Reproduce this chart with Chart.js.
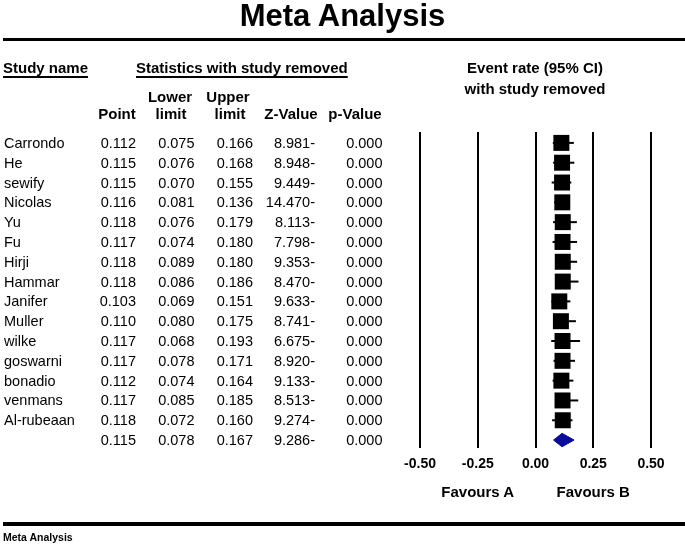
<!DOCTYPE html>
<html>
<head>
<meta charset="utf-8">
<script src="https://cdn.jsdelivr.net/npm/chart.js@4/dist/chart.umd.min.js"></script>
<style>
  html,body{margin:0;padding:0;background:#fff;}
  #wrap{position:relative;width:685px;height:548px;overflow:hidden;font-family:"Liberation Sans",Arial,sans-serif;color:#000;}
  #c{position:absolute;left:0;top:0;}
  .t{position:absolute;white-space:nowrap;line-height:18px;height:18px;}
  .b{font-weight:bold;}
  .hd{font-size:15px;font-weight:bold;}
  .cell{font-size:14.5px;}
  .ul{text-decoration:underline;text-underline-offset:3px;text-decoration-thickness:2px;}
  .rule{position:absolute;left:3px;right:0;background:#000;}
</style>
</head>
<body>
<div id="wrap">
  <canvas id="c" width="685" height="548"></canvas>
  <div class="t b" style="left:0;width:685px;text-align:center;top:0;font-size:31px;line-height:32px;height:32px;">Meta Analysis</div>
  <div class="rule" style="top:38px;height:3px;"></div>
  <div class="rule" style="top:522px;height:4px;"></div>
  <div class="t b" style="left:3px;top:531px;font-size:10.5px;line-height:12px;height:12px;font-family:'Liberation Sans Narrow','Liberation Sans',Arial,sans-serif;">Meta Analysis</div>
</div>
<script>
// leave-one-out results, one row per removed study
const studies = ['Carrondo','He','sewify','Nicolas','Yu','Fu','Hirji','Hammar','Janifer','Muller','wilke','goswarni','bonadio','venmans','Al-rubeaan'];
const point   = [0.112,0.115,0.115,0.116,0.118,0.117,0.118,0.118,0.103,0.110,0.117,0.117,0.112,0.117,0.118];
const lower   = [0.075,0.076,0.070,0.081,0.076,0.074,0.089,0.086,0.069,0.080,0.068,0.078,0.074,0.085,0.072];
const upper   = [0.166,0.168,0.155,0.136,0.179,0.180,0.180,0.186,0.151,0.175,0.193,0.171,0.164,0.185,0.160];
const zValues = ['8.981-','8.948-','9.449-','14.470-','8.113-','7.798-','9.353-','8.470-','9.633-','8.741-','6.675-','8.920-','9.133-','8.513-','9.274-'];
const pValues = ['0.000','0.000','0.000','0.000','0.000','0.000','0.000','0.000','0.000','0.000','0.000','0.000','0.000','0.000','0.000'];

// pooled row
const summary = {point:0.115, lower:0.078, upper:0.167, z:'9.286-', p:'0.000'};

const xTicks = [-0.5,-0.25,0,0.25,0.5];
const favours = ['Favours A','Favours B'];

const FONT = '"Liberation Sans", Arial, sans-serif';
const DIAMOND_HALF = 0.34; // half height of the pooled diamond, in rows
const sumRow = studies.length;

const whiskers = studies.map((s,i)=>({
  type:'line', data:[{x:lower[i],y:i},{x:upper[i],y:i}],
  borderColor:'#000', borderWidth:2, pointRadius:0, fill:false, showLine:true
}));

const squares = {
  type:'scatter', data: point.map((p,i)=>({x:p,y:i})),
  pointStyle:'rect', pointRadius:11.3, backgroundColor:'#000', borderColor:'#000', borderWidth:0
};

const diamond = {
  type:'line',
  data:[
    {x:summary.lower,y:sumRow},{x:summary.point,y:sumRow-DIAMOND_HALF},
    {x:summary.upper,y:sumRow},{x:summary.point,y:sumRow+DIAMOND_HALF},
    {x:summary.lower,y:sumRow}
  ],
  borderColor:'#0b0b9c', backgroundColor:'#0b0b9c', borderWidth:1, pointRadius:0, fill:'shape', tension:0
};

const chart = new Chart(document.getElementById('c'), {
  type:'scatter',
  data:{ datasets: whiskers.concat([squares, diamond]) },
  options:{
    responsive:false, animation:false, devicePixelRatio:1,
    layout:{ padding:{left:420, right:34, top:132, bottom:70} },
    plugins:{ legend:{display:false}, tooltip:{enabled:false} },
    scales:{
      x:{ type:'linear', min:xTicks[0], max:xTicks[xTicks.length-1],
        afterBuildTicks: s=>{ s.ticks = xTicks.map(v=>({value:v})); },
        afterFit: s=>{ s.height = 30; },
        ticks:{ callback:v=>v.toFixed(2), color:'#000', padding:8, maxRotation:0,
          font:{family:FONT, size:14, weight:'bold', lineHeight:1.2} },
        grid:{ color:'#000', lineWidth:2, drawTicks:false },
        border:{ display:false }
      },
      y:{ type:'linear', reverse:true, min:-0.55, max:15.4, display:false }
    }
  }
});

// table text, placed on the chart's own row scale
const wrap = document.getElementById('wrap');
function txt(s, x, y, align, cls){
  const d = document.createElement('div');
  d.className = 't ' + (cls||'');
  d.textContent = s;
  d.style.top = (y-9)+'px';
  if(align==='left'){ d.style.left = x+'px'; }
  else if(align==='right'){ d.style.right = (685-x)+'px'; }
  else { d.style.left = (x-100)+'px'; d.style.width='200px'; d.style.textAlign='center'; }
  wrap.appendChild(d);
}

const colRight = [136, 194.5, 253, 315, 382.5];
const ys = chart.scales.y, xs = chart.scales.x;

studies.forEach((s,i)=>{
  const y = ys.getPixelForValue(i);
  txt(s, 4, y, 'left', 'cell');
  [point[i].toFixed(3), lower[i].toFixed(3), upper[i].toFixed(3), zValues[i], pValues[i]]
    .forEach((v,k)=>txt(v, colRight[k], y, 'right', 'cell'));
});
const sy = ys.getPixelForValue(sumRow);
[summary.point.toFixed(3), summary.lower.toFixed(3), summary.upper.toFixed(3), summary.z, summary.p]
  .forEach((v,k)=>txt(v, colRight[k], sy, 'right', 'cell'));

// headers
txt('Study name', 3, 68, 'left', 'hd ul');
txt('Statistics with study removed', 136, 68, 'left', 'hd ul');
txt('Lower', 170, 97, 'center', 'hd');
txt('Upper', 228, 97, 'center', 'hd');
txt('Point', 117, 114, 'center', 'hd');
txt('limit', 171, 114, 'center', 'hd');
txt('limit', 230, 114, 'center', 'hd');
txt('Z-Value', 291, 114, 'center', 'hd');
txt('p-Value', 355, 114, 'center', 'hd');
txt('Event rate (95% CI)', 535, 68, 'center', 'hd');
txt('with study removed', 535, 89, 'center', 'hd');

// favours labels under the -0.25 and 0.25 ticks
txt(favours[0], xs.getPixelForValue(-0.25), 492, 'center', 'hd');
txt(favours[1], xs.getPixelForValue(0.25), 492, 'center', 'hd');
</script>
</body>
</html>
